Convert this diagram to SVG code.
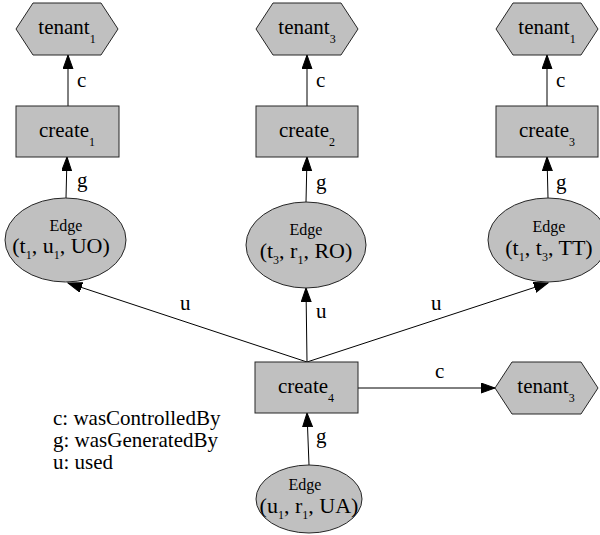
<svg xmlns="http://www.w3.org/2000/svg" width="600" height="535" viewBox="0 0 600 535">
  <style>
    .shape { fill: #c0c0c0; stroke: #262626; stroke-width: 1; }
    .lbl { font-family: "Liberation Serif", "Times New Roman", serif; font-size: 21px; fill: #000; }
    .big { font-family: "Liberation Serif", "Times New Roman", serif; font-size: 22px; fill: #000; }
    .small { font-family: "Liberation Serif", "Times New Roman", serif; font-size: 16px; fill: #000; }
    .sub { font-size: 12px; }
    .edge { fill: none; stroke: #000; stroke-width: 1; marker-end: url(#arrow); }
  </style>
  <defs>
    <marker id="arrow" markerUnits="userSpaceOnUse" markerWidth="15" markerHeight="11" refX="14" refY="5" orient="auto">
      <path d="M0,0 L14,5 L0,10 Z" fill="#000" stroke="#000" stroke-width="1"/>
    </marker>
  </defs>

  <!-- connectors -->
  <g id="edges">
    <line class="edge" x1="68" y1="106" x2="68" y2="55"/>
    <line class="edge" x1="66" y1="198" x2="67" y2="157"/>
    <line class="edge" x1="307" y1="106" x2="307" y2="55"/>
    <line class="edge" x1="306" y1="202" x2="307" y2="157"/>
    <line class="edge" x1="547" y1="106" x2="547" y2="55"/>
    <line class="edge" x1="548" y1="198" x2="547" y2="157"/>
    <line class="edge" x1="307" y1="362" x2="68" y2="283"/>
    <line class="edge" x1="307" y1="362" x2="306" y2="288"/>
    <line class="edge" x1="307" y1="362" x2="548" y2="283"/>
    <line class="edge" x1="358" y1="388" x2="495" y2="388"/>
    <line class="edge" x1="309" y1="465" x2="307" y2="413"/>
    <!-- edge labels -->
    <text class="lbl" x="77" y="87">c</text>
    <text class="lbl" x="77" y="187">g</text>
    <text class="lbl" x="316" y="87">c</text>
    <text class="lbl" x="316" y="189">g</text>
    <text class="lbl" x="556" y="87">c</text>
    <text class="lbl" x="556" y="189">g</text>
    <text class="lbl" x="180" y="310">u</text>
    <text class="lbl" x="316" y="318">u</text>
    <text class="lbl" x="431" y="310">u</text>
    <text class="lbl" x="435" y="378">c</text>
    <text class="lbl" x="316" y="443">g</text>
  </g>

  <!-- tenants -->
  <g id="tenant1_a">
    <polygon class="shape" points="16,29 33,3 101,3 118,29 101,55 33,55"/>
    <text class="lbl" x="67" y="34" text-anchor="middle">tenant<tspan class="sub" dy="9">1</tspan></text>
  </g>
  <g id="tenant3_a">
    <polygon class="shape" points="256,29 273,3 341,3 358,29 341,55 273,55"/>
    <text class="lbl" x="307" y="34" text-anchor="middle">tenant<tspan class="sub" dy="9">3</tspan></text>
  </g>
  <g id="tenant1_b">
    <polygon class="shape" points="496,29 513,3 581,3 598,29 581,55 513,55"/>
    <text class="lbl" x="547" y="34" text-anchor="middle">tenant<tspan class="sub" dy="9">1</tspan></text>
  </g>
  <g id="tenant3_b">
    <polygon class="shape" points="495,388 512,362 581,362 598,388 581,414 512,414"/>
    <text class="lbl" x="546" y="393" text-anchor="middle">tenant<tspan class="sub" dy="9">3</tspan></text>
  </g>

  <!-- create activities -->
  <g id="create1">
    <rect class="shape" x="16" y="106" width="103" height="51"/>
    <text class="lbl" x="67" y="137" text-anchor="middle">create<tspan class="sub" dy="9">1</tspan></text>
  </g>
  <g id="create2">
    <rect class="shape" x="256" y="106" width="102" height="51"/>
    <text class="lbl" x="307" y="137" text-anchor="middle">create<tspan class="sub" dy="9">2</tspan></text>
  </g>
  <g id="create3">
    <rect class="shape" x="496" y="106" width="102" height="51"/>
    <text class="lbl" x="547" y="137" text-anchor="middle">create<tspan class="sub" dy="9">3</tspan></text>
  </g>
  <g id="create4">
    <rect class="shape" x="255" y="362" width="103" height="51"/>
    <text class="lbl" x="306" y="393" text-anchor="middle">create<tspan class="sub" dy="9">4</tspan></text>
  </g>

  <!-- edge entities -->
  <g id="edge_t1_u1_UO">
    <ellipse class="shape" cx="65.5" cy="240" rx="60.5" ry="42"/>
    <text class="small" x="66" y="231" text-anchor="middle">Edge</text>
    <text class="big" x="61" y="253" text-anchor="middle">(t<tspan class="sub" dy="6">1</tspan><tspan dy="-6">, u</tspan><tspan class="sub" dy="6">1</tspan><tspan dy="-6">, UO)</tspan></text>
  </g>
  <g id="edge_t3_r1_RO">
    <ellipse class="shape" cx="306" cy="245" rx="60" ry="43"/>
    <text class="small" x="306" y="235" text-anchor="middle">Edge</text>
    <text class="big" x="306" y="258" text-anchor="middle">(t<tspan class="sub" dy="6">3</tspan><tspan dy="-6">, r</tspan><tspan class="sub" dy="6">1</tspan><tspan dy="-6">, RO)</tspan></text>
  </g>
  <g id="edge_t1_t3_TT">
    <ellipse class="shape" cx="548" cy="240" rx="60" ry="42"/>
    <text class="small" x="549" y="232" text-anchor="middle">Edge</text>
    <text class="big" x="549" y="255" text-anchor="middle">(t<tspan class="sub" dy="6">1</tspan><tspan dy="-6">, t</tspan><tspan class="sub" dy="6">3</tspan><tspan dy="-6">, TT)</tspan></text>
  </g>
  <g id="edge_u1_r1_UA">
    <ellipse class="shape" cx="309" cy="499" rx="53" ry="34"/>
    <text class="small" x="305" y="490" text-anchor="middle">Edge</text>
    <text class="big" x="309" y="513" text-anchor="middle">(u<tspan class="sub" dy="6">1</tspan><tspan dy="-6">, r</tspan><tspan class="sub" dy="6">1</tspan><tspan dy="-6">, UA)</tspan></text>
  </g>

  <!-- legend -->
  <g id="legend">
    <text class="lbl" x="53" y="425">c: wasControlledBy</text>
    <text class="lbl" x="53" y="447">g: wasGeneratedBy</text>
    <text class="lbl" x="53" y="469">u: used</text>
  </g>
</svg>
